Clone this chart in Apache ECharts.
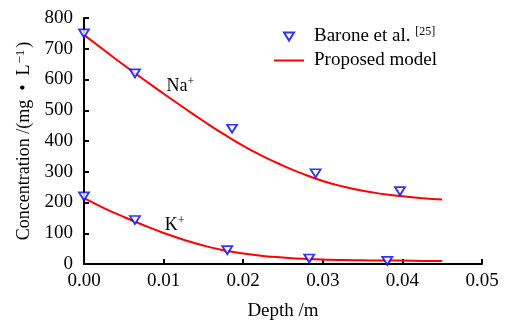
<!DOCTYPE html>
<html><head><meta charset="utf-8">
<script src="https://cdn.jsdelivr.net/npm/echarts@6/dist/echarts.min.js"></script>
<style>html,body{margin:0;padding:0;background:#fff}#c{width:507px;height:326px}</style>
</head><body><div id="c"></div>
<script>
// Measured data (Barone et al.)
const naDepth = [0.0, 0.0064, 0.0186, 0.0291, 0.0397];
const naConc = [750, 620, 440, 295, 237];
const kDepth = [0.0, 0.0064, 0.0180, 0.0283, 0.0381];
const kConc = [220, 143, 45, 18, 10];
// Proposed model curves
const modelDepth = [0, 0.0025, 0.005, 0.0075, 0.01, 0.0125, 0.015, 0.0175, 0.02, 0.0225, 0.025, 0.0275, 0.03, 0.0325, 0.035, 0.0375, 0.04, 0.0425, 0.045];
const naModel = [745, 696, 647, 600, 554, 509, 465, 423, 384, 350, 320, 293, 270, 252, 238, 228, 220, 214, 210];
const kModel = [214, 182, 153, 126, 101, 79, 60, 45, 34, 26, 21, 17, 15, 13, 12, 11, 11, 10, 10];
const xTicks = [0, 0.01, 0.02, 0.03, 0.04, 0.05];
const yTicks = [0, 100, 200, 300, 400, 500, 600, 700, 800];
const ionLabels = [{text: 'Na', sup: '+', x: 0.0121, y: 578}, {text: 'K', sup: '+', x: 0.0114, y: 127}];

const FONT = 'Liberation Serif';
const tri = 'path://M0,0 L10,0 L5,8 Z';
const zip = (a, b) => a.map((v, i) => [v, b[i]]);

const chart = echarts.init(document.getElementById('c'));
const scatterStyle = {color: '#fff', borderColor: '#0000ff', borderWidth: 1.8};
const lineStyle = {color: '#ff0000', width: 2};
const supStyle = {fontFamily: FONT, fontSize: 12, color: '#000', verticalAlign: 'top', padding: [0, 0, 9, 0]};
chart.setOption({
  animation: false,
  backgroundColor: '#fff',
  textStyle: {fontFamily: FONT},
  grid: {left: 84, right: 25, top: 18, bottom: 58},
  legend: {
    orient: 'vertical', left: 268, top: 21, itemGap: 5, itemWidth: 30, itemHeight: 8,
    textStyle: {fontFamily: FONT, fontSize: 19, color: '#000',
      rich: {a: {fontFamily: FONT, fontSize: 19, color: '#000', padding: [0, 0, 0, 5]}, s: supStyle}},
    formatter: n => n === 'Barone et al.' ? '{a|Barone et al. }{s|[25]}' : '{a|' + n + '}',
    data: [{name: 'Barone et al.', icon: tri}, {name: 'Proposed model', itemStyle: {opacity: 0}}]
  },
  xAxis: {
    type: 'value', min: 0, max: 0.05, interval: 0.01,
    name: 'Depth /m', nameLocation: 'middle', nameGap: 38,
    nameTextStyle: {fontFamily: FONT, fontSize: 19, color: '#000'},
    axisLine: {show: true, lineStyle: {color: '#000', width: 2}},
    axisTick: {show: true, inside: true, length: 5, lineStyle: {color: '#000', width: 2}},
    axisLabel: {fontFamily: FONT, fontSize: 19, color: '#000', margin: 8, formatter: v => v.toFixed(2)},
    splitLine: {show: false}
  },
  yAxis: {
    type: 'value', min: 0, max: 800, interval: 100,
    name: '{m|Concentration /(mg  \u2022  L}{s|\u22121}{m|)}', nameLocation: 'middle', nameGap: 49, nameRotate: 90,
    nameTextStyle: {fontFamily: FONT, fontSize: 18, color: '#000',
      rich: {m: {fontFamily: FONT, fontSize: 18, color: '#000'}, s: {fontFamily: FONT, fontSize: 13, color: '#000', verticalAlign: 'top', padding: [0, 2, 8, 1]}}},
    axisLine: {show: true, lineStyle: {color: '#000', width: 2}},
    axisTick: {show: true, inside: true, length: 5, lineStyle: {color: '#000', width: 2}},
    axisLabel: {fontFamily: FONT, fontSize: 19, color: '#000', margin: 11},
    splitLine: {show: false}
  },
  series: [
    {name: 'Proposed model', type: 'line', data: zip(modelDepth, naModel), smooth: true, showSymbol: false, symbol: 'none', lineStyle: lineStyle, itemStyle: {color: '#ff0000'}, z: 2},
    {name: 'Proposed model', type: 'line', data: zip(modelDepth, kModel), smooth: true, showSymbol: false, symbol: 'none', lineStyle: lineStyle, itemStyle: {color: '#ff0000'}, z: 2},
    {name: 'Barone et al.', type: 'scatter', data: zip(naDepth, naConc), symbol: tri, symbolSize: [10, 8], itemStyle: scatterStyle, z: 3},
    {name: 'Barone et al.', type: 'scatter', data: zip(kDepth, kConc), symbol: tri, symbolSize: [10, 8], itemStyle: scatterStyle, z: 3},
    {name: 'labels', type: 'scatter', symbol: 'circle', symbolSize: 1, silent: true, itemStyle: {color: '#fff', opacity: 0}, z: 4,
     data: ionLabels.map(l => ({value: [l.x, l.y], label: {show: true, position: 'inside', color: '#000', opacity: 1, textBorderWidth: 0,
       formatter: '{m|' + l.text + '}{s|' + l.sup + '}',
       rich: {m: {fontFamily: FONT, fontSize: 18, color: '#000', textBorderWidth: 0}, s: Object.assign({textBorderWidth: 0}, supStyle)}}}))}
  ]
});
</script></body></html>
